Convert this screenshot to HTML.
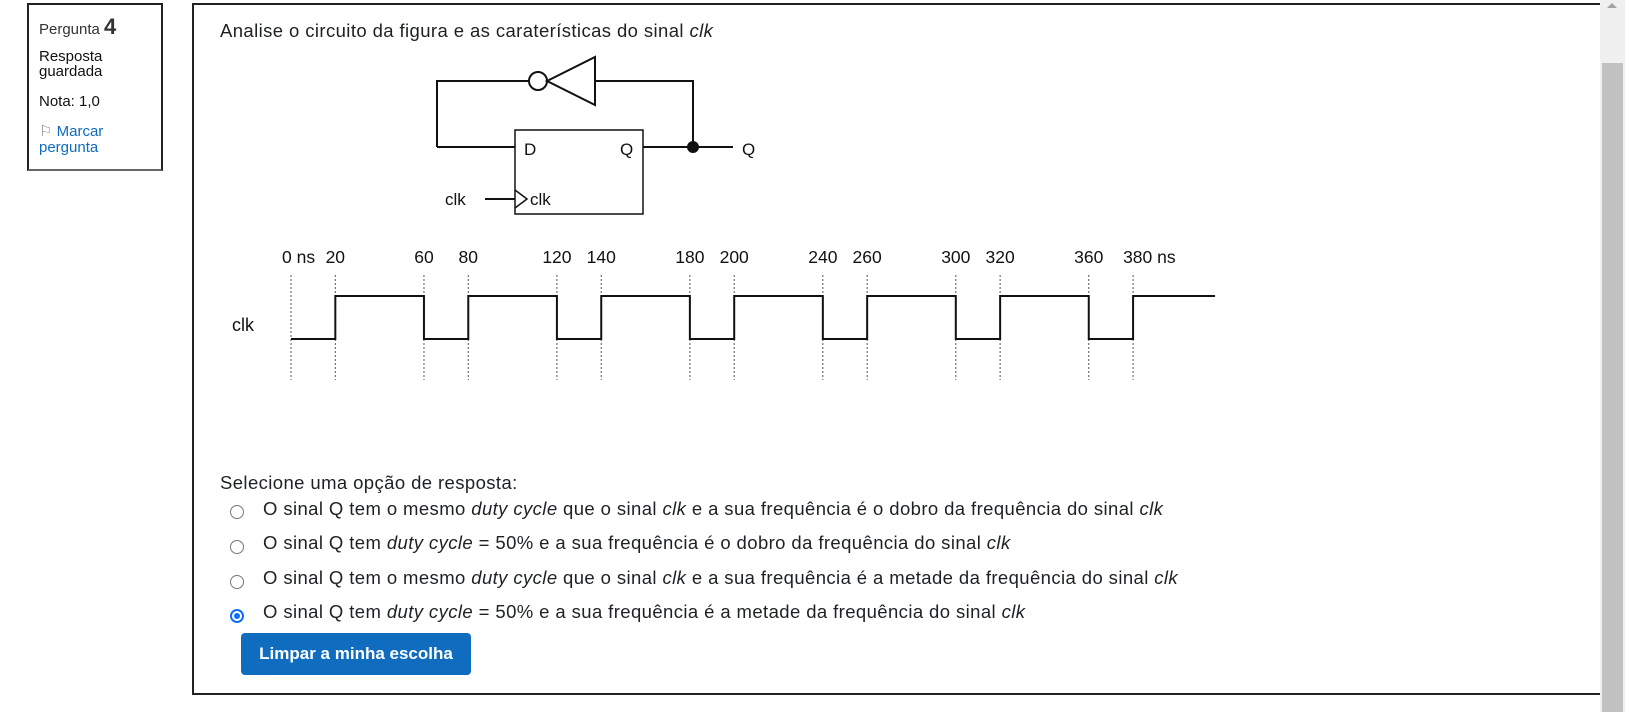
<!DOCTYPE html>
<html><head><meta charset="utf-8">
<style>
body{margin:0;width:1625px;height:712px;background:#fff;position:relative;overflow:hidden;font-family:"Liberation Sans",Arial,sans-serif;color:#1d2125}
.abs{position:absolute;white-space:nowrap}
.t{font-size:18.5px;line-height:20px;letter-spacing:0.4px}
.radio{position:absolute;width:14px;height:14px;border:1px solid #777;border-radius:50%;box-sizing:border-box;background:#fff}
</style></head><body>
<div class="abs" style="left:27px;top:3px;width:136px;height:168px;border:2px solid #222;box-sizing:border-box;border-bottom-color:#666"></div>
<div class="abs" style="left:39px;top:14px;font-size:15px;color:#333">Pergunta <b style="font-size:22px">4</b></div>
<div class="abs" style="left:39px;top:49px;font-size:15px;line-height:15px;color:#111">Resposta<br>guardada</div>
<div class="abs" style="left:39px;top:93px;font-size:15px;color:#111">Nota: 1,0</div>
<div class="abs" style="left:39px;top:124px;font-size:15px;line-height:16px;color:#0f6cbf"><span style="color:#888">⚐</span> Marcar<br>pergunta</div>

<div class="abs" style="left:192px;top:3px;width:1420px;height:692px;border:2px solid #222;box-sizing:border-box"></div>
<div class="abs t" style="left:220px;top:21px">Analise o circuito da figura e as caraterísticas do sinal <i>clk</i></div>

<svg class="abs" style="left:0;top:0" width="1625" height="712">
 <g stroke="#111" stroke-width="2" fill="none">
  <polyline points="437,147 437,81 529,81"/>
  <circle cx="538" cy="81" r="9" fill="#fff"/>
  <polygon points="547,81 595,57 595,105"/>
  <polyline points="595,81 693,81 693,147"/>
  <rect x="515" y="130" width="128" height="84" stroke-width="1.5"/>
  <line x1="437" y1="147" x2="515" y2="147"/>
  <line x1="643" y1="147" x2="733" y2="147"/>
  <circle cx="693" cy="147" r="5" fill="#111"/>
  <line x1="485" y1="199" x2="515" y2="199"/>
  <polyline points="515,190 527,199 515,208" stroke-width="1.5"/>
 </g>
 <g font-family="Liberation Sans, sans-serif" font-size="17" fill="#111">
  <text x="524" y="155">D</text><text x="620" y="155">Q</text><text x="742" y="155">Q</text>
  <text x="445" y="205">clk</text><text x="530" y="205">clk</text>
 </g>
 <g id="timing"></g>
</svg>
<script>
const edgeTimes=[0,20,60,80,120,140,180,200,240,260,300,320,360,380];
const edgeLevels=[0,1,0,1,0,1,0,1,0,1,0,1,0,1];
const tickLabels=["0 ns","20","60","80","120","140","180","200","240","260","300","320","360","380 ns"];
const endTime=417;
const xs=t=>291+t*2.216;
const ys=v=>v?296:339;
const g=document.getElementById('timing');
const NS='http://www.w3.org/2000/svg';
function mk(tag,attrs){const e=document.createElementNS(NS,tag);for(const k in attrs)e.setAttribute(k,attrs[k]);return e;}
edgeTimes.forEach((t,i)=>{
 const l=mk('line',{x1:xs(t),x2:xs(t),y1:275,y2:380,stroke:'#555','stroke-width':1,'stroke-dasharray':'2,2'});
 
 
 g.appendChild(l);
 const tx=mk('text',{x:xs(t)+(i==0?-9:0),y:263,'font-size':17.5,'font-family':'Liberation Sans, sans-serif',fill:'#111','text-anchor':i==0||i==13?'start':'middle'});
 if(i==13)tx.setAttribute('x',xs(t)-10);
 tx.textContent=tickLabels[i];
 
 
 g.appendChild(tx);
});
let pts=[];
edgeTimes.forEach((t,i)=>{
 if(i>0)pts.push(xs(t)+','+ys(edgeLevels[i-1]));
 pts.push(xs(t)+','+ys(edgeLevels[i]));
});
pts.push(xs(endTime)+','+ys(edgeLevels[edgeLevels.length-1]));
const wave=mk('polyline',{points:pts.join(' '),fill:'none',stroke:'#111','stroke-width':2});


g.appendChild(wave);
const lab=mk('text',{x:232,y:331,'font-size':18,'font-family':'Liberation Sans, sans-serif',fill:'#111'});
lab.textContent='clk';


g.appendChild(lab);
</script>

<div class="abs t" style="left:220px;top:473px">Selecione uma opção de resposta:</div>
<div class="radio" style="left:230px;top:505px"></div>
<div class="abs t" style="left:263px;top:499px">O sinal Q tem o mesmo <i>duty cycle</i> que o sinal <i>clk</i> e a sua frequência é o dobro da frequência do sinal <i>clk</i></div>
<div class="radio" style="left:230px;top:540px"></div>
<div class="abs t" style="left:263px;top:533px">O sinal Q tem <i>duty cycle</i> = 50% e a sua frequência é o dobro da frequência do sinal <i>clk</i></div>
<div class="radio" style="left:230px;top:575px"></div>
<div class="abs t" style="left:263px;top:568px">O sinal Q tem o mesmo <i>duty cycle</i> que o sinal <i>clk</i> e a sua frequência é a metade da frequência do sinal <i>clk</i></div>
<div class="radio" style="left:230px;top:609px;border:2px solid #0d6efd"><div style="position:absolute;left:2px;top:2px;width:6px;height:6px;border-radius:50%;background:#0d6efd"></div></div>
<div class="abs t" style="left:263px;top:602px">O sinal Q tem <i>duty cycle</i> = 50% e a sua frequência é a metade da frequência do sinal <i>clk</i></div>
<div class="abs" style="left:241px;top:633px;width:230px;height:42px;background:#0f6cbf;border-radius:4px;color:#fff;font-size:17px;font-weight:bold;line-height:42px;text-align:center">Limpar a minha escolha</div>

<div class="abs" style="left:1600px;top:0;width:25px;height:712px;background:#f0f0f0">
 <div style="position:absolute;left:7px;top:3px;width:0;height:0;border-left:5px solid transparent;border-right:5px solid transparent;border-bottom:5px solid #a3a3a3"></div>
 <div style="position:absolute;left:2px;top:63px;width:21px;height:649px;background:#c1c1c1"></div>
</div>
</body></html>
